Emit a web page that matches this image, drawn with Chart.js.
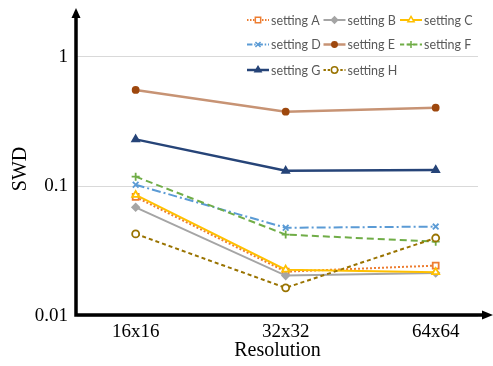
<!DOCTYPE html>
<html>
<head>
<meta charset="utf-8">
<script src="https://cdn.jsdelivr.net/npm/chart.js@4/dist/chart.umd.min.js"></script>
<style>
  html, body { margin: 0; padding: 0; background: #fff; }
  #wrap { width: 493px; height: 366px; position: relative; }
</style>
</head>
<body>
<div id="wrap"><canvas id="c" width="493" height="366"></canvas></div>
<script>
// Resolution categories along the x axis
const categories = ['16x16', '32x32', '64x64'];

// SWD per setting, one value per resolution
const settingA = [0.083, 0.022, 0.0245];
const settingB = [0.069, 0.0205, 0.0215];
const settingC = [0.086, 0.0228, 0.0218];
const settingD = [0.103, 0.048, 0.049];
const settingE = [0.556, 0.378, 0.406];
const settingF = [0.119, 0.0425, 0.0375];
const settingG = [0.231, 0.132, 0.134];
const settingH = [0.043, 0.0165, 0.040];

// Log-axis ticks and their labels
const yTicks = [0.01, 0.1, 1];
const yTickLabels = ['0.01', '0.1', '1'];

const seriesNames = ['setting A', 'setting B', 'setting C', 'setting D',
                     'setting E', 'setting F', 'setting G', 'setting H'];
const seriesValues = [settingA, settingB, settingC, settingD,
                      settingE, settingF, settingG, settingH];

const styles = [
  { line: '#ED7D31', point: '#ED7D31', fill: '#FFFFFF', dash: [2, 2], w: 2, ps: 'rect', r: 4.2 },
  { line: '#A5A5A5', point: '#A5A5A5', fill: '#A5A5A5', dash: [], w: 2, ps: 'rectRot', r: 3.5 },
  { line: '#FFC000', point: '#FFC000', fill: '#FFFFFF', dash: [], w: 2, ps: 'triangle', r: 4 },
  { line: '#5B9BD5', point: '#5B9BD5', fill: '#5B9BD5', dash: [9, 3, 2, 3], w: 2, ps: 'crossRot', r: 4 },
  { line: '#C79374', point: '#9E480E', fill: '#9E480E', dash: [], w: 2.5, ps: 'circle', r: 3 },
  { line: '#70AD47', point: '#70AD47', fill: '#70AD47', dash: [7, 4], w: 2, ps: 'cross', r: 4 },
  { line: '#264478', point: '#264478', fill: '#264478', dash: [], w: 2.5, ps: 'triangle', r: 4 },
  { line: '#997300', point: '#997300', fill: '#FFFFFF', dash: [4, 3], w: 2, ps: 'circle', r: 3.5 }
];

const datasets = seriesValues.map((vals, i) => ({
  label: seriesNames[i],
  data: vals.map((v, j) => ({ x: j, y: v })),
  borderColor: styles[i].line,
  borderWidth: styles[i].w,
  borderDash: styles[i].dash,
  pointStyle: styles[i].ps,
  pointRadius: styles[i].r,
  pointBorderColor: styles[i].point,
  pointBackgroundColor: styles[i].fill,
  pointBorderWidth: 1.8,
  fill: false,
  tension: 0,
  order: 8 - i
}));

function drawMarker(ctx, st, x, y) {
  if (Chart.helpers && Chart.helpers.drawPoint) {
    ctx.save();
    ctx.strokeStyle = st.point;
    ctx.fillStyle = st.fill;
    ctx.lineWidth = 1.5;
    ctx.setLineDash([]);
    Chart.helpers.drawPoint(ctx, { pointStyle: st.ps, radius: st.r * 0.9, rotation: 0, borderWidth: 1.5 }, x, y);
    ctx.restore();
  }
}

// Legend drawn inside the plot area: three columns, line sample with marker
const legendPlugin = {
  id: 'lineLegend',
  afterDatasetsDraw(chart) {
    const ctx = chart.ctx;
    const rowY = [20, 44.5, 70];
    ctx.save();
    ctx.font = '12.5px Lato';
    ctx.textBaseline = 'middle';
    ctx.textAlign = 'left';
    seriesNames.forEach((name, i) => {
      const col = i % 3, row = Math.floor(i / 3);
      const sx = 247 + col * 76.5, sy = rowY[row];
      const st = styles[i];
      ctx.save();
      ctx.strokeStyle = st.line;
      ctx.lineWidth = st.w;
      ctx.setLineDash(st.dash.length ? st.dash.map(d => Math.max(1.5, d * 0.6)) : []);
      ctx.beginPath();
      ctx.moveTo(sx, sy);
      ctx.lineTo(sx + 22, sy);
      ctx.stroke();
      ctx.restore();
      drawMarker(ctx, st, sx + 11, sy);
      ctx.fillStyle = '#595959';
      ctx.fillText(name, sx + 24, sy + 0.5);
    });
    ctx.restore();
  }
};

// Black axes with arrowheads
const arrowAxes = {
  id: 'arrowAxes',
  afterDatasetsDraw(chart) {
    const { ctx, chartArea: a } = chart;
    const x0 = a.left - 1, y0 = a.bottom - 1;
    ctx.save();
    ctx.strokeStyle = '#000';
    ctx.fillStyle = '#000';
    ctx.lineWidth = 3.5;
    ctx.setLineDash([]);
    ctx.beginPath();
    ctx.moveTo(x0, y0 + 1.75);
    ctx.lineTo(x0, 16);
    ctx.moveTo(x0 - 1.75, y0);
    ctx.lineTo(484, y0);
    ctx.stroke();
    ctx.beginPath();
    ctx.moveTo(x0, 8);
    ctx.lineTo(x0 - 4.5, 18);
    ctx.lineTo(x0 + 4.5, 18);
    ctx.closePath();
    ctx.fill();
    ctx.beginPath();
    ctx.moveTo(493, y0);
    ctx.lineTo(482, y0 - 4.5);
    ctx.lineTo(482, y0 + 4.5);
    ctx.closePath();
    ctx.fill();
    ctx.restore();
  }
};

new Chart(document.getElementById('c'), {
  type: 'line',
  data: { datasets },
  plugins: [legendPlugin, arrowAxes],
  options: {
    responsive: false,
    animation: false,
    layout: { padding: { top: 22, right: 15, left: 0, bottom: 0 } },
    plugins: { legend: { display: false }, tooltip: { enabled: false } },
    scales: {
      x: {
        type: 'linear',
        min: -0.391,
        max: 2.282,
        afterBuildTicks: s => { s.ticks = categories.map((c, i) => ({ value: i })); },
        afterFit: s => { s.height = 50; },
        grid: { display: false, drawTicks: false },
        border: { display: false },
        ticks: {
          callback: v => categories[v],
          color: '#000',
          font: { family: 'Liberation Serif', size: 19, lineHeight: 1 },
          padding: 7,
          maxRotation: 0,
          autoSkip: false
        },
        title: {
          display: true,
          text: 'Resolution',
          color: '#000',
          font: { family: 'Liberation Serif', size: 20, lineHeight: 1 },
          padding: { top: 0, bottom: 5 }
        }
      },
      y: {
        type: 'logarithmic',
        min: 0.01,
        max: 1.86,
        afterBuildTicks: s => { s.ticks = yTicks.map(v => ({ value: v })); },
        afterFit: s => { s.width = 77; },
        grid: { color: '#D9D9D9', lineWidth: 1, drawTicks: false },
        border: { display: false },
        ticks: {
          callback: v => yTickLabels[yTicks.indexOf(v)],
          color: '#000',
          font: { family: 'Liberation Serif', size: 19 },
          padding: 9
        },
        title: {
          display: true,
          text: 'SWD',
          color: '#000',
          font: { family: 'Liberation Serif', size: 20, lineHeight: 1 },
          padding: { top: 11, bottom: 0 }
        }
      }
    }
  }
});
</script>
</body>
</html>
